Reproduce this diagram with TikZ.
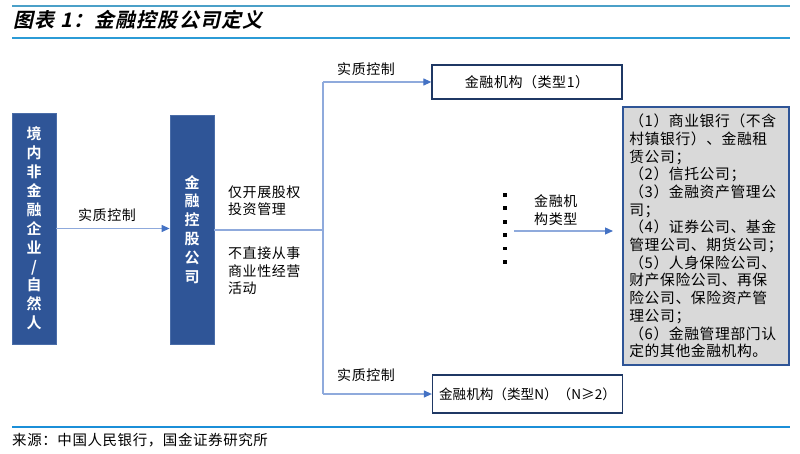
\documentclass[tikz,border=0pt]{standalone}
\usepackage{fontspec}
\usetikzlibrary{arrows.meta}
\newfontfamily\cjk[LetterSpace=4]{Noto Sans CJK SC}
\newfontfamily\cjkplain{Noto Sans CJK SC}
\newfontfamily\cjkbold{Noto Sans CJK SC Bold}
\newfontfamily\cjktitle[FakeSlant=0.22,LetterSpace=6]{Noto Sans CJK SC Bold}
\definecolor{boxblue}{HTML}{2F5597}
\definecolor{boxedge}{HTML}{4A6DA8}
\definecolor{navy}{HTML}{1F3864}
\definecolor{conn}{HTML}{8FAADC}
\definecolor{tipblue}{HTML}{4472C4}
\definecolor{rule1}{HTML}{4BA0C8}
\definecolor{rule2}{HTML}{2B9BD6}
\definecolor{rule3}{HTML}{1B8FD8}
\definecolor{greyfill}{HTML}{D9D9D9}
\tikzset{
  vbox/.style={draw=boxedge, line width=0.8pt, fill=boxblue, text=white, minimum width=44pt, align=center, inner sep=0pt,
    font={\cjkbold\fontsize{15}{18.9}\selectfont}},
  instbox/.style={draw=navy, line width=1.3pt, fill=white, minimum width=190pt, inner sep=0pt,
    font={\cjk\fontsize{14}{17}\selectfont}},
  lbl/.style={align=left, inner sep=0pt, anchor=west, font={\cjk\fontsize{14}{17.6}\selectfont}},
  conline/.style={draw=conn, line width=1.2pt},
  arr/.style={conline, -{Triangle[length=8pt,width=7pt,color=tipblue]}},
  rulesty/.style={line width=2pt},
  dotsq/.style={fill=black, inner sep=0pt, minimum size=3.8pt, draw=none}
}
\begin{document}
\begin{tikzpicture}[x=1pt, y=-1pt]
\useasboundingbox (0,0) rectangle (800,454);
% rules
\coordinate (r1a) at (12,6); \coordinate (r1b) at (790,6);
\coordinate (r2a) at (12,38); \coordinate (r2b) at (790,38);
\coordinate (r3a) at (12,427); \coordinate (r3b) at (790,427);
\draw[rulesty, rule1, line width=2.5pt] (r1a) -- (r1b);
\draw[rulesty, rule2] (r2a) -- (r2b);
\draw[rulesty, rule3] (r3a) -- (r3b);
% title and source
\node[anchor=west, inner sep=0pt, font={\cjktitle\fontsize{20}{22}\selectfont}] (title) at (13,20) {图表 1：金融控股公司定义};
\node[anchor=west, inner sep=0pt, font={\cjk\fontsize{14.5}{16}\selectfont}] (src) at (12,440) {来源：中国人民银行，国金证券研究所};
% left boxes
\node[vbox, minimum height=231pt] (L) at (34,228.5) {境\\内\\非\\金\\融\\企\\业\\/\\自\\然\\人};
\node[vbox, minimum height=229pt] (M) at (192,229.5) {金\\融\\控\\股\\公\\司};
\draw[arr] (L.east) -- (L.east -| M.west);
\node[lbl] (c0) at (78,215) {实质控制};
% middle labels
\node[lbl] (t1) at (228,200.5) {仅开展股权\\投资管理};
\node[lbl] (t2) at (228,271) {不直接从事\\商业性经营\\活动};
% institution boxes
\node[instbox, minimum height=34pt] (T) at (527,82) {金融机构（类型1）};
\node[instbox, minimum height=38pt, font={\cjkplain\fontsize{13.6}{17}\selectfont}] (B) at (527.5,394) {金融机构（类型N）（N≥2）};
% trunk
\coordinate (J) at (323,230);
\coordinate (Jt) at (323,82);
\coordinate (Jb) at (323,394);
\draw[conline] (M.east |- J) -- (J);
\draw[conline] (Jt) -- (Jb);
\draw[arr] (Jt) -- (T.west);
\draw[arr] (Jb) -- (B.west);
\node[lbl] (c1) at (337,69) {实质控制};
\node[lbl] (c2) at (337,375) {实质控制};
% dots
\foreach \i in {0,...,5} {
  \node[dotsq] (d\i) at (505,{195+13.4*\i}) {};
}
% right grey box
\node[draw=boxblue, line width=1.3pt, fill=greyfill, minimum width=166pt, minimum height=258pt, align=left, inner sep=0pt,
  font={\cjk\fontsize{14.8}{17.7}\selectfont}] (R) at (706,236)
  {（1）商业银行（不含\\村镇银行）、金融租\\赁公司；\\（2）信托公司；\\（3）金融资产管理公\\司；\\（4）证券公司、基金\\管理公司、期货公司；\\（5）人身保险公司、\\财产保险公司、再保\\险公司、保险资产管\\理公司；\\（6）金融管理部门认\\定的其他金融机构。};
\coordinate (S) at (514,231);
\coordinate (E) at (613,231);
\draw[arr] (S) -- (E);
\node[lbl] (kt) at (534,210) {金融机\\构类型};
\end{tikzpicture}
\end{document}
